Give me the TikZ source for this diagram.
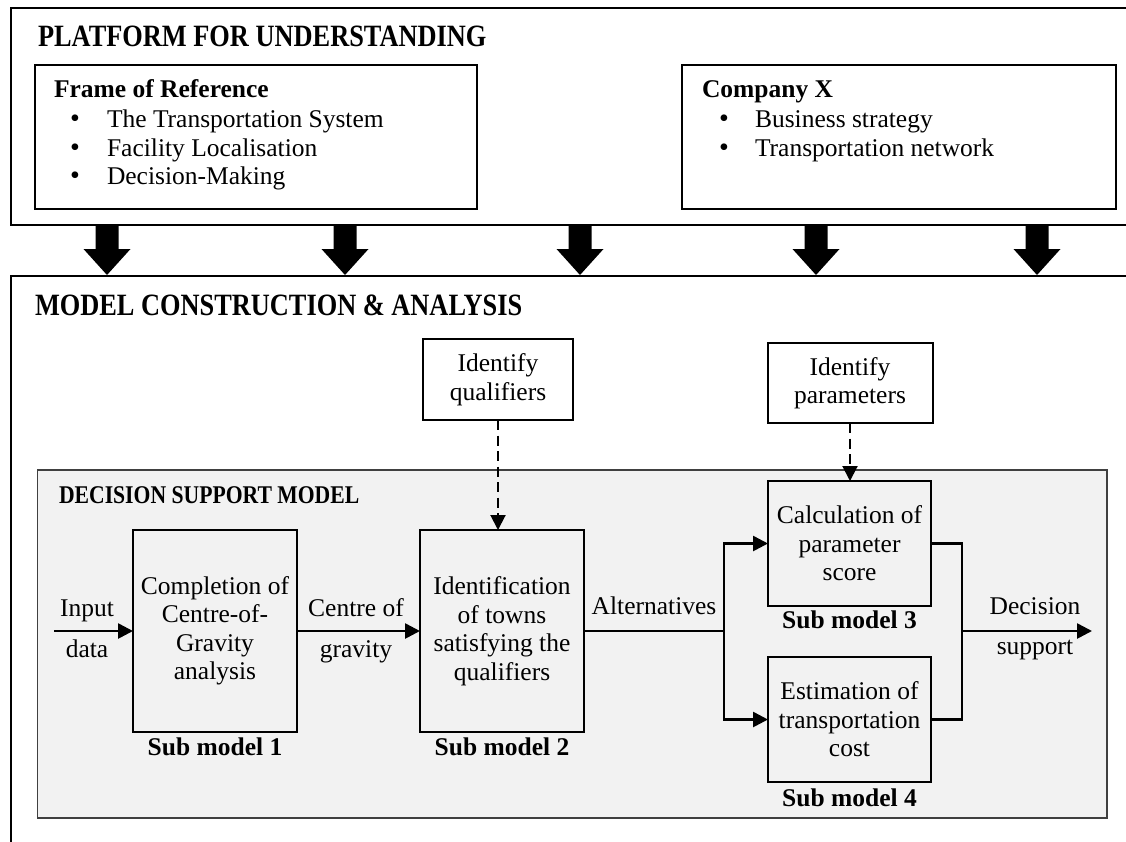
\documentclass[tikz,border=0pt]{standalone}
\usepackage{fontspec}
\setmainfont{Liberation Serif}
\newfontfamily\headfont{Liberation Serif}[FakeStretch=0.85]
\usetikzlibrary{arrows.meta,calc}
\definecolor{panelgray}{HTML}{F2F2F2}

\begin{document}
\begin{tikzpicture}[x=1pt,y=-1pt,
  every node/.style={inner sep=0pt,outer sep=0pt},
  txt/.style={font=\fontsize{25.5}{29}\selectfont},
  bullet/.style={anchor=base,font=\fontsize{28}{28}\selectfont},
  headtxt/.style={font=\bfseries\fontsize{25.5}{29}\selectfont},
  bigtitle/.style={anchor=base west,font=\headfont\bfseries\fontsize{31}{36}\selectfont},
  panel/.style={draw,line width=2pt,anchor=north west},
  stepbox/.style={draw,line width=2pt,align=center,fill=white,
    font=\fontsize{25.5}{28.5}\selectfont},
  sublabel/.style={anchor=base,font=\bfseries\fontsize{25.5}{29}\selectfont},
  flowlabel/.style={anchor=base,font=\fontsize{25.5}{29}\selectfont},
  frameline/.style={line width=2pt},
  link/.style={line width=2.6pt},
  conn/.style={link,-{Triangle[length=15pt,width=15pt]}},
  dashconn/.style={line width=2pt,dash pattern=on 10pt off 5.5pt,
    -{Triangle[length=15pt,width=15pt]}},
  blockarrow/.style={fill=black}
]
\useasboundingbox (0,0) rectangle (1126,841);

% ---- upper frame: platform for understanding ----
\draw[frameline] (1130,8) -- (11,8) -- (11,225) -- (1130,225);
\node[bigtitle] (pftitle) at (38,46.5) {PLATFORM FOR UNDERSTANDING};

\node[panel,minimum width=442pt,minimum height=144pt] (ref) at (35,65) {};
\node[headtxt,anchor=base west] (refhead) at (54,97) {Frame of Reference};
\node[bullet] (rb1) at (75,127) {\textbullet};
\node[bullet] (rb2) at (75,156) {\textbullet};
\node[bullet] (rb3) at (75,184) {\textbullet};
\node[txt,anchor=base west] (ri1) at (107,127) {The Transportation System};
\node[txt,anchor=base west] (ri2) at (107,156) {Facility Localisation};
\node[txt,anchor=base west] (ri3) at (107,184) {Decision-Making};

\node[panel,minimum width=434pt,minimum height=144pt] (comp) at (682,65) {};
\node[headtxt,anchor=base west] (comphead) at (702,97) {Company X};
\node[bullet] (cb1) at (724,127) {\textbullet};
\node[bullet] (cb2) at (724,156) {\textbullet};
\node[txt,anchor=base west] (ci1) at (755,127) {Business strategy};
\node[txt,anchor=base west] (ci2) at (755,156) {Transportation network};

% ---- block arrows between the two frames ----
\foreach \x in {107,345,580,816,1037}
  \fill[blockarrow] (\x-11.5,225) -- (\x+11.5,225) -- (\x+11.5,249)
    -- (\x+23.5,249) -- (\x,275) -- (\x-23.5,249) -- (\x-11.5,249) -- cycle;

% ---- lower frame: model construction ----
\draw[frameline] (1130,276) -- (11,276) -- (11,845);
\node[bigtitle] (mctitle) at (35,315) {MODEL CONSTRUCTION \& ANALYSIS};

\node[stepbox,minimum width=150pt,minimum height=81pt] (qual) at (498,379.5) {Identify\\qualifiers};
\node[stepbox,minimum width=165pt,minimum height=80pt] (param) at (850,383) {Identify\\parameters};

% decision support model panel
\node[draw=black!75,line width=1.5pt,fill=panelgray,anchor=north west,
  minimum width=1069.5pt,minimum height=348pt] (dsm) at (37.5,470) {};
\node[anchor=base west,font=\headfont\bfseries\fontsize{25.5}{30}\selectfont]
  (dsmtitle) at (59,503) {DECISION SUPPORT MODEL};

\node[stepbox,fill=panelgray,minimum width=164pt,minimum height=202pt] (sm1) at (215,631)
  {Completion of\\Centre-of-\\Gravity\\analysis};
\node[stepbox,fill=panelgray,minimum width=164pt,minimum height=202pt] (sm2) at (502,631)
  {Identification\\of towns\\satisfying the\\qualifiers};
\node[stepbox,fill=panelgray,minimum width=163pt,minimum height=125pt] (sm3) at (849.5,543.5)
  {Calculation of\\parameter\\score};
\node[stepbox,fill=panelgray,minimum width=163pt,minimum height=125pt] (sm4) at (849.5,719.5)
  {Estimation of\\transportation\\cost};

\node[sublabel] (sm1lab) at ([yshift=-23pt]sm1.south) {Sub model 1};
\node[sublabel] (sm2lab) at ([yshift=-23pt]sm2.south) {Sub model 2};
\node[sublabel] (sm3lab) at ([yshift=-22pt]sm3.south) {Sub model 3};
\node[sublabel] (sm4lab) at ([yshift=-24pt]sm4.south) {Sub model 4};

% flow labels
\node[flowlabel] (inlab1) at (87,616) {Input};
\node[flowlabel] (inlab2) at (87,657) {data};
\node[flowlabel] (cglab1) at (356,616) {Centre of};
\node[flowlabel] (cglab2) at (356,657) {gravity};
\node[flowlabel] (altlab) at (654,614) {Alternatives};
\node[flowlabel] (outlab1) at (1035,614) {Decision};
\node[flowlabel] (outlab2) at (1035,654) {support};

% connectors
\coordinate (inp) at (54,631);
\coordinate (split) at (724,631);
\coordinate (merge) at (962,631);
\coordinate (outp) at (1092,631);

\draw[conn] (inp) -- (sm1.west);
\draw[conn] (sm1.east) -- (sm2.west);
\draw[link] (sm2.east) -- (split);
\draw[conn] (split) |- (sm3.west);
\draw[conn] (split) |- (sm4.west);
\draw[link] (sm3.east) -| (merge);
\draw[link] (sm4.east) -| (merge);
\draw[conn] (merge) -- (outp);

\draw[dashconn] (qual.south) -- (qual.south |- sm2.north);
\draw[dashconn] (param.south) -- (param.south |- sm3.north);
\end{tikzpicture}
\end{document}
